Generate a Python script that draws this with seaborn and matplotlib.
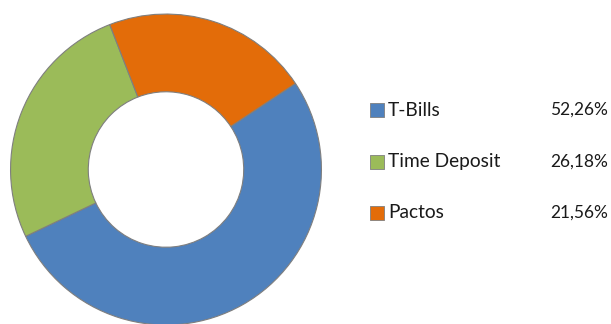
import numpy as np
import matplotlib
matplotlib.use('Agg')
import matplotlib.pyplot as plt
import seaborn as sns

# data
categories = ['T-Bills', 'Time Deposit', 'Pactos']
shares = [52.26, 26.18, 21.56]
colors = ['#4F81BD', '#9BBB59', '#E36C09']

sns.set_theme(style='white')
plt.rcParams['font.family'] = ['Lato', 'DejaVu Sans']

fig = plt.figure(figsize=(6.11, 3.24), dpi=100)
W, H = 611, 324

# donut axes: center (166, 169.5) px, radius 157 px
cx, cy, R = 166, 169.5, 157
ax = fig.add_axes([(cx - R) / W, 1 - (cy + R) / H, 2 * R / W, 2 * R / H])
ax.pie(shares, colors=colors, startangle=33.6, counterclock=False, radius=1,
       wedgeprops=dict(width=0.5, edgecolor='#7F7F7F', linewidth=0.8))
ax.set_xlim(-1.01, 1.01)
ax.set_ylim(-1.01, 1.01)
ax.set_aspect('equal')
ax.axis('off')

# legend drawn in its own axes, pixel coordinates
lg = fig.add_axes([0, 0, 1, 1])
lg.set_xlim(0, W)
lg.set_ylim(H, 0)
lg.axis('off')
rows = [110, 162, 213]
lg.scatter([377] * 3, rows, marker='s', s=95, c=colors, edgecolors='#7F7F7F', linewidths=0.6)
for y, name, v in zip(rows, categories, shares):
    lg.text(388, y, name, fontsize=13.8, va='center', ha='left', color='#1a1a1a')
    lg.text(608, y, f'{v:.2f}%'.replace('.', ','), fontsize=12.5, va='center', ha='right', color='#1a1a1a')

fig.savefig('out.png', dpi=100, facecolor='white')
